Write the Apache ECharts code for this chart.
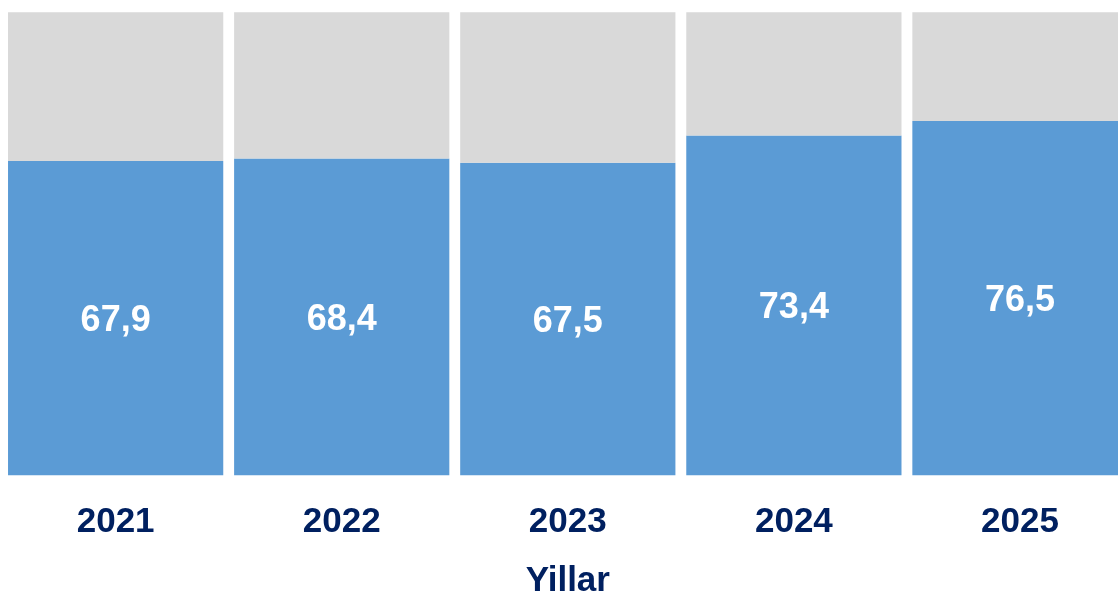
<!DOCTYPE html>
<html>
<head>
<meta charset="utf-8">
<script src="https://cdn.jsdelivr.net/npm/echarts@6/dist/echarts.min.js"></script>
<style>
html,body{margin:0;padding:0;background:#fff;}
#chart{width:1118px;height:596px;}
</style>
</head>
<body>
<div id="chart"></div>
<script>
var categories = ['2021', '2022', '2023', '2024', '2025'];
var values = [67.9, 68.4, 67.5, 73.4, 76.5];
var remainder = [32.1, 31.6, 32.5, 26.6, 23.5];
var axisName = 'Yillar';

var chart = echarts.init(document.getElementById('chart'), null, {renderer: 'canvas'});
var font = '"Liberation Sans", Arial, sans-serif';
chart.setOption({
  animation: false,
  grid: {left: 2.6, right: -15, top: 12.3, bottom: 120.7, containLabel: false, outerBoundsMode: 'none'},
  xAxis: {
    type: 'category',
    data: categories,
    name: axisName,
    nameLocation: 'middle',
    nameGap: 89,
    nameTextStyle: {color: '#002060', fontSize: 35, fontWeight: 'bold', fontFamily: font},
    axisLine: {show: false},
    axisTick: {show: false},
    axisLabel: {color: '#002060', fontSize: 35, fontWeight: 'bold', fontFamily: font, margin: 30}
  },
  yAxis: {
    type: 'value', min: 0, max: 100, show: false,
    splitLine: {show: false}
  },
  series: [
    {
      type: 'bar', stack: 'a', data: values, barCategoryGap: '4.8%',
      itemStyle: {color: '#5B9BD5'},
      label: {
        show: true, position: 'inside', offset: [0, 3], color: '#ffffff', fontSize: 36, fontWeight: 'bold', fontFamily: font,
        formatter: function (p) { return String(p.value).replace('.', ','); }
      }
    },
    {
      type: 'bar', stack: 'a', data: remainder, barCategoryGap: '4.8%',
      itemStyle: {color: '#D9D9D9'}
    }
  ]
});
</script>
</body>
</html>
